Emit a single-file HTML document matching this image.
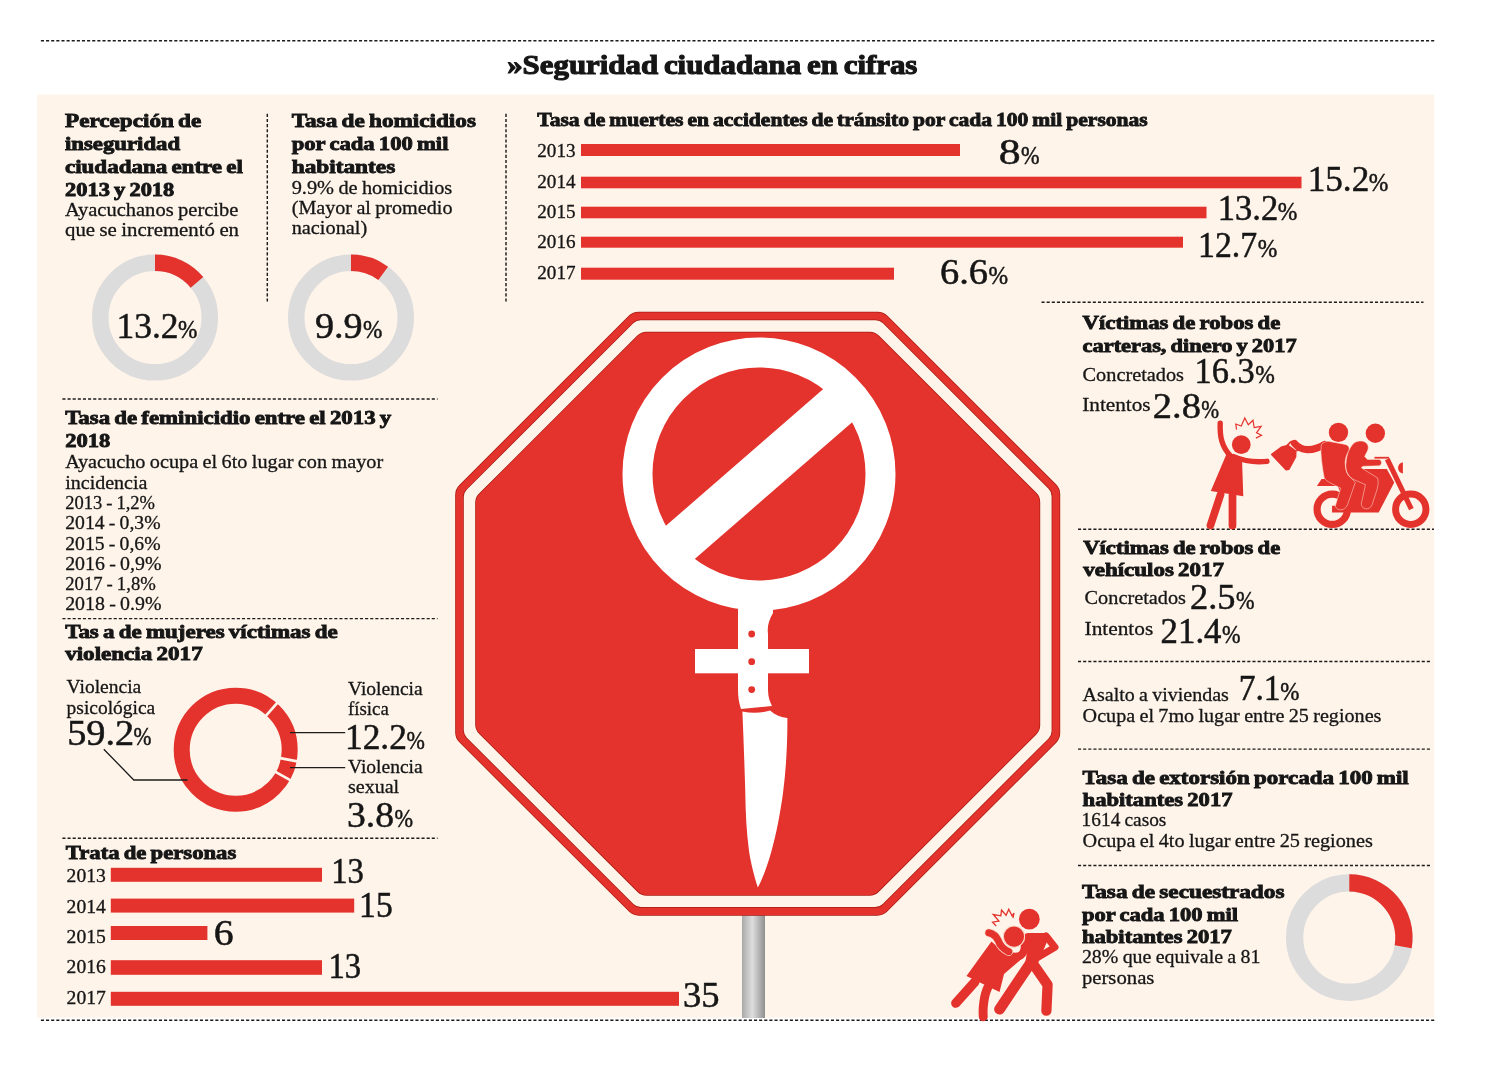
<!DOCTYPE html>
<html lang="es">
<head>
<meta charset="utf-8">
<title>Seguridad ciudadana en cifras</title>
<style>
html,body{margin:0;padding:0;background:#fff;}
body{width:1500px;height:1067px;overflow:hidden;}
svg{display:block;}
text{font-family:"Liberation Serif",serif;fill:#161616;}
text.h{font-weight:bold;stroke:#161616;stroke-width:1.1px;}
text.b{font-weight:bold;stroke:#161616;stroke-width:0.85px;}
text.r{font-weight:normal;stroke:#161616;stroke-width:0.3px;}
text.n{font-weight:normal;stroke:#161616;stroke-width:0.5px;}
</style>
</head>
<body>
<svg width="1500" height="1067" viewBox="0 0 1500 1067">
<defs><linearGradient id="pole" x1="0" x2="1" y1="0" y2="0"><stop offset="0" stop-color="#a9a9a9"/><stop offset="0.45" stop-color="#dedede"/><stop offset="1" stop-color="#8f8f8f"/></linearGradient><style>.dot{stroke:#1c1c1c;stroke-width:1.45;stroke-dasharray:3.1 2.03;fill:none}</style></defs>
<rect x="0" y="0" width="1500" height="1067" fill="#fff"/>
<rect x="37.2" y="94.6" width="1396.9" height="923" fill="#fef4ea"/>
<line class="dot" x1="40.9" y1="40.7" x2="1435.0" y2="40.7"/>
<line class="dot" x1="40.9" y1="1020.3" x2="1435.0" y2="1020.3"/>
<line class="dot" x1="267.3" y1="113.8" x2="267.3" y2="302.0"/>
<line class="dot" x1="506.0" y1="113.8" x2="506.0" y2="302.0"/>
<line class="dot" x1="62.4" y1="399.0" x2="437.6" y2="399.0"/>
<line class="dot" x1="62.4" y1="618.6" x2="437.6" y2="618.6"/>
<line class="dot" x1="62.4" y1="838.3" x2="437.6" y2="838.3"/>
<line class="dot" x1="1041.5" y1="302.3" x2="1423.5" y2="302.3"/>
<line class="dot" x1="1078.0" y1="529.2" x2="1434.0" y2="529.2"/>
<line class="dot" x1="1078.0" y1="661.4" x2="1430.0" y2="661.4"/>
<line class="dot" x1="1078.0" y1="749.1" x2="1430.0" y2="749.1"/>
<line class="dot" x1="1078.0" y1="865.5" x2="1430.0" y2="865.5"/>
<rect x="581" y="144.0" width="379.0" height="12.0" fill="#e4322c"/>
<rect x="581" y="176.7" width="720.5" height="11.6" fill="#e4322c"/>
<rect x="581" y="206.7" width="625.5" height="11.6" fill="#e4322c"/>
<rect x="581" y="236.7" width="602.0" height="11.0" fill="#e4322c"/>
<rect x="581" y="267.7" width="313.0" height="12.0" fill="#e4322c"/>
<rect x="110.8" y="867.8" width="211.2" height="14.0" fill="#e4322c"/>
<rect x="110.8" y="898.6" width="243.4" height="14.0" fill="#e4322c"/>
<rect x="110.8" y="926.0" width="96.6" height="14.0" fill="#e4322c"/>
<rect x="110.8" y="960.2" width="211.2" height="14.6" fill="#e4322c"/>
<rect x="110.8" y="991.8" width="568.2" height="14.0" fill="#e4322c"/>
<circle cx="155.00" cy="317.60" r="54.75" fill="none" stroke="#dcdcdc" stroke-width="16.50"/>
<path fill="#e4322c" d="M155.00,254.60 A63.00,63.00 0 0 1 203.26,277.10 L190.62,287.71 A46.50,46.50 0 0 0 155.00,271.10 Z"/>
<circle cx="351.00" cy="317.60" r="54.75" fill="none" stroke="#dcdcdc" stroke-width="16.50"/>
<path fill="#e4322c" d="M351.00,254.60 A63.00,63.00 0 0 1 388.03,266.63 L378.33,279.98 A46.50,46.50 0 0 0 351.00,271.10 Z"/>
<circle cx="1349.30" cy="937.60" r="54.65" fill="none" stroke="#dcdcdc" stroke-width="17.30"/>
<path fill="#e4322c" d="M1349.30,874.30 A63.30,63.30 0 0 1 1411.71,948.16 L1394.66,945.27 A46.00,46.00 0 0 0 1349.30,891.60 Z"/>
<circle cx="235.70" cy="749.70" r="54.00" fill="none" stroke="#e4322c" stroke-width="16.00"/>
<line x1="264.91" y1="716.80" x2="278.19" y2="701.84" stroke="#fef4ea" stroke-width="2.7"/>
<line x1="278.92" y1="757.94" x2="298.57" y2="761.69" stroke="#fef4ea" stroke-width="2.7"/>
<line x1="274.11" y1="771.17" x2="291.57" y2="780.92" stroke="#fef4ea" stroke-width="2.7"/>
<polyline points="103.8,749.2 133.8,780 187.6,780" fill="none" stroke="#1c1c1c" stroke-width="1.3"/>
<line x1="290" y1="732.6" x2="345.2" y2="732.6" stroke="#1c1c1c" stroke-width="1.3"/>
<line x1="290" y1="767.6" x2="345.2" y2="767.6" stroke="#1c1c1c" stroke-width="1.3"/>
<rect x="742" y="908" width="23" height="110" fill="url(#pole)"/>
<path d="M638.59,325.70 L877.61,325.70 L1046.20,494.10 L1046.20,733.10 L877.41,901.70 L638.79,901.70 L469.20,732.39 L469.20,494.90 Z" fill="#a81a10" stroke="#a81a10" stroke-width="28.00" stroke-linejoin="round"/>
<path d="M638.68,325.90 L877.52,325.90 L1046.00,494.19 L1046.00,733.01 L877.32,901.50 L638.87,901.50 L469.40,732.31 L469.40,494.99 Z" fill="#e4322c" stroke="#e4322c" stroke-width="27.00" stroke-linejoin="round"/>
<path d="M640.62,330.60 L875.58,330.60 L1041.30,496.13 L1041.30,731.07 L875.38,896.80 L640.82,896.80 L474.10,730.36 L474.10,496.93 Z" fill="#a81a10" stroke="#a81a10" stroke-width="22.00" stroke-linejoin="round"/>
<path d="M640.71,330.80 L875.49,330.80 L1041.10,496.22 L1041.10,730.98 L875.29,896.60 L640.90,896.60 L474.30,730.28 L474.30,497.02 Z" fill="#fef4ea" stroke="#fef4ea" stroke-width="21.00" stroke-linejoin="round"/>
<path d="M646.46,344.70 L869.74,344.70 L1027.20,501.98 L1027.20,725.22 L869.54,882.70 L646.65,882.70 L488.20,724.51 L488.20,502.78 Z" fill="#a81a10" stroke="#a81a10" stroke-width="26.00" stroke-linejoin="round"/>
<path d="M646.54,344.90 L869.66,344.90 L1027.00,502.06 L1027.00,725.14 L869.46,882.50 L646.74,882.50 L488.40,724.43 L488.40,502.86 Z" fill="#e4322c" stroke="#e4322c" stroke-width="25.00" stroke-linejoin="round"/>
<circle cx="759" cy="474" r="121.5" fill="none" stroke="#fff" stroke-width="30"/>
<g transform="rotate(-41 759 474)"><rect x="644" y="452" width="230" height="44" fill="#fff"/></g>
<rect x="695" y="649" width="114" height="24.3" fill="#fff"/>
<path fill="#fff" d="M738,600 L773,600 L773,613 C769,620 767,626 768,634 L768,690 C768,697 770,702 772,706 L741,709 C739,703 738,697 738,690 Z"/>
<circle cx="751.7" cy="634" r="3.4" fill="#e4322c"/>
<circle cx="751.7" cy="661.7" r="3.4" fill="#e4322c"/>
<circle cx="751.7" cy="689.6" r="3.4" fill="#e4322c"/>
<path fill="#fff" d="M742.4,711.5 C752,713.5 762,713 770,710.5 C775,715 781,717.5 787.4,718 C787.5,745 786,770 783,793 C780,815 776,835 771.5,851 C767,867 762,880 757.8,887.6 C753,872 750.5,861 749,851 C746.5,832 745.5,812 745.3,793 C744.5,765 743.5,738 742.4,711.5 Z"/>
<g transform="translate(1195 410) scale(0.117151)" fill="#e4322c" stroke="none">
<circle cx="395" cy="295" r="80"/>
<path d="M215,112 C211,225 226,312 306,396" fill="none" stroke="#e4322c" stroke-width="46" stroke-linecap="round"/>
<path d="M330,398 C420,437 530,447 614,438" fill="none" stroke="#e4322c" stroke-width="46" stroke-linecap="round"/>
<path d="M268,378 L352,400 L402,442 L412,737 L135,692 L250,420 Z"/>
<path d="M218,722 L132,985" fill="none" stroke="#e4322c" stroke-width="66" stroke-linecap="round"/>
<path d="M320,730 L320,985" fill="none" stroke="#e4322c" stroke-width="66" stroke-linecap="round"/>
<polyline points="355,167 348,120 395,136 425,68 455,126 495,88 505,150 565,140 525,195 568,215 520,240" fill="none" stroke="#e4322c" stroke-width="10" stroke-linejoin="miter"/>
<path d="M655,380 L742,316 L795,304 L860,352 L858,400 L800,506 L778,510 Z" stroke="#e4322c" stroke-width="14" stroke-linejoin="round"/>
<path d="M778,312 L815,274 C830,262 850,268 858,286 L874,352" fill="none" stroke="#e4322c" stroke-width="15" stroke-linejoin="round"/>
<path d="M850,286 C905,350 1000,358 1105,296" fill="none" stroke="#e4322c" stroke-width="62" stroke-linecap="round"/>
</g>
<g transform="translate(1300 415) scale(0.112448)" fill="#e4322c" stroke="none">
<circle cx="287" cy="838" r="135" fill="none" stroke="#e4322c" stroke-width="64"/>
<circle cx="985" cy="838" r="135" fill="none" stroke="#e4322c" stroke-width="62"/>
<path d="M285,808 L285,866 L700,866 L838,600 L772,480 L545,480 L440,572 L192,570 L150,632 L335,632 L365,705 L335,808 Z"/>
<path d="M776,392 L990,836" fill="none" stroke="#e4322c" stroke-width="46"/>
<path d="M662,380 L792,380" fill="none" stroke="#e4322c" stroke-width="16"/>
<path d="M915,420 L915,520 C858,514 858,426 915,420 Z"/>
<circle cx="342" cy="155" r="86"/>
<path d="M190,262 C215,238 240,232 262,235 L402,262 C432,270 446,292 432,322 C402,372 392,422 412,500 C422,540 470,570 492,600 L422,800 C402,852 328,860 314,810 L362,650 C300,620 232,590 216,560 C200,480 190,400 186,330 Z" stroke="#fbd9c8" stroke-width="5" stroke-linejoin="round"/>
<circle cx="670" cy="162" r="86"/>
<path d="M540,232 C582,232 612,260 606,300 C600,330 580,350 575,370 L600,395 L700,395 C732,395 732,452 700,452 L560,456 L545,470 L690,560 C702,600 692,640 680,680 L640,800 C620,852 545,842 545,790 L582,620 L470,570 C420,540 400,480 410,420 C415,350 440,290 480,250 C500,236 520,232 540,232 Z" stroke="#fbd9c8" stroke-width="5" stroke-linejoin="round"/>
</g>
<g transform="translate(930 890) scale(0.13123)" fill="#e4322c" stroke="none">
<circle cx="757" cy="222" r="79"/>
<path d="M712,360 C715,340 730,328 750,328 L880,328 L905,362 L856,480 L815,575 L722,575 L740,470 Z"/>
<path d="M884,350 L952,436 L820,514" fill="none" stroke="#e4322c" stroke-width="54" stroke-linecap="round" stroke-linejoin="round"/>
<path d="M764,560 L530,908" fill="none" stroke="#e4322c" stroke-width="82" stroke-linecap="round"/>
<path d="M792,572 L896,722 L887,920" fill="none" stroke="#e4322c" stroke-width="78" stroke-linecap="round" stroke-linejoin="round"/>
<path d="M722,420 C722,500 680,522 600,500" fill="none" stroke="#e4322c" stroke-width="60" stroke-linecap="round"/>
<path d="M468,392 L560,470 L640,500 L702,522 L564,640 L530,778 L278,655 Z"/>
<path d="M448,326 C475,332 505,352 520,385 C532,422 562,452 600,470" fill="none" stroke="#fbd9c8" stroke-width="66" stroke-linecap="round"/>
<path d="M448,326 C475,332 505,352 520,385 C532,422 562,452 600,470" fill="none" stroke="#e4322c" stroke-width="54" stroke-linecap="round"/>
<circle cx="640" cy="355" r="81" stroke="#fbd9c8" stroke-width="8"/>
<path d="M342,700 L197,862" fill="none" stroke="#e4322c" stroke-width="72" stroke-linecap="round"/>
<path d="M442,740 C412,800 400,900 406,966" fill="none" stroke="#e4322c" stroke-width="68" stroke-linecap="round"/>
<polyline points="505,275 477,245 525,237 482,187 540,197 545,152 580,192 600,147 625,197 640,177 632,215" fill="none" stroke="#e4322c" stroke-width="10"/>
</g>
<g id="labels">
<text class="h" x="507.18" y="73.70" font-size="27.5" word-spacing="-1.65" textLength="410.19" lengthAdjust="spacingAndGlyphs">»Seguridad ciudadana en cifras</text>
<text class="b" x="65.00" y="127.30" font-size="18.5" word-spacing="-1.20" textLength="136.26" lengthAdjust="spacingAndGlyphs">Percepción de</text>
<text class="b" x="65.00" y="150.00" font-size="18.5" textLength="115.12" lengthAdjust="spacingAndGlyphs">inseguridad</text>
<text class="b" x="65.00" y="173.30" font-size="18.5" word-spacing="-1.20" textLength="177.87" lengthAdjust="spacingAndGlyphs">ciudadana entre el</text>
<text class="b" x="65.00" y="196.00" font-size="18.5" word-spacing="-1.20" textLength="109.30" lengthAdjust="spacingAndGlyphs">2013 y 2018</text>
<text class="b" x="291.70" y="127.30" font-size="18.5" word-spacing="-1.20" textLength="184.25" lengthAdjust="spacingAndGlyphs">Tasa de homicidios</text>
<text class="b" x="291.70" y="150.00" font-size="18.5" word-spacing="-1.20" textLength="156.77" lengthAdjust="spacingAndGlyphs">por cada 100 mil</text>
<text class="b" x="291.70" y="173.30" font-size="18.5" textLength="103.55" lengthAdjust="spacingAndGlyphs">habitantes</text>
<text class="b" x="537.30" y="126.30" font-size="18.5" word-spacing="-1.20" textLength="610.43" lengthAdjust="spacingAndGlyphs">Tasa de muertes en accidentes de tránsito por cada 100 mil personas</text>
<text class="b" x="1082.60" y="329.20" font-size="18.5" word-spacing="-1.20" textLength="197.66" lengthAdjust="spacingAndGlyphs">Víctimas de robos de</text>
<text class="b" x="1082.60" y="351.60" font-size="18.5" word-spacing="-1.20" textLength="214.00" lengthAdjust="spacingAndGlyphs">carteras, dinero y 2017</text>
<text class="b" x="1083.20" y="554.20" font-size="18.5" word-spacing="-1.20" textLength="197.06" lengthAdjust="spacingAndGlyphs">Víctimas de robos de</text>
<text class="b" x="1083.20" y="576.00" font-size="18.5" word-spacing="-1.20" textLength="140.91" lengthAdjust="spacingAndGlyphs">vehículos 2017</text>
<text class="b" x="1082.60" y="783.90" font-size="18.5" word-spacing="-1.20" textLength="326.17" lengthAdjust="spacingAndGlyphs">Tasa de extorsión porcada 100 mil</text>
<text class="b" x="1082.60" y="805.70" font-size="18.5" word-spacing="-1.20" textLength="149.91" lengthAdjust="spacingAndGlyphs">habitantes 2017</text>
<text class="b" x="1081.90" y="897.50" font-size="18.5" word-spacing="-1.20" textLength="202.55" lengthAdjust="spacingAndGlyphs">Tasa de secuestrados</text>
<text class="b" x="1081.90" y="920.60" font-size="18.5" word-spacing="-1.20" textLength="156.07" lengthAdjust="spacingAndGlyphs">por cada 100 mil</text>
<text class="b" x="1081.90" y="942.60" font-size="18.5" word-spacing="-1.20" textLength="150.01" lengthAdjust="spacingAndGlyphs">habitantes 2017</text>
<text class="b" x="65.20" y="424.20" font-size="18.5" word-spacing="-1.20" textLength="326.07" lengthAdjust="spacingAndGlyphs">Tasa de feminicidio entre el 2013 y</text>
<text class="b" x="65.20" y="446.80" font-size="18.5" textLength="45.10" lengthAdjust="spacingAndGlyphs">2018</text>
<text class="b" x="65.20" y="638.00" font-size="18.5" word-spacing="-1.20" textLength="272.46" lengthAdjust="spacingAndGlyphs">Tas a de mujeres víctimas de</text>
<text class="b" x="65.20" y="660.40" font-size="18.5" word-spacing="-1.20" textLength="137.51" lengthAdjust="spacingAndGlyphs">violencia 2017</text>
<text class="b" x="65.80" y="859.40" font-size="18.5" word-spacing="-1.20" textLength="170.44" lengthAdjust="spacingAndGlyphs">Trata de personas</text>
<text class="r" x="65.00" y="216.00" font-size="19.5" word-spacing="-0.68" textLength="173.39" lengthAdjust="spacingAndGlyphs">Ayacuchanos percibe</text>
<text class="r" x="65.00" y="236.30" font-size="19.5" word-spacing="-0.68" textLength="174.03" lengthAdjust="spacingAndGlyphs">que se incrementó en</text>
<text class="r" x="291.70" y="194.30" font-size="19.5" word-spacing="-0.68" textLength="160.61" lengthAdjust="spacingAndGlyphs">9.9% de homicidios</text>
<text class="r" x="291.70" y="214.30" font-size="19.5" word-spacing="-0.68" textLength="160.77" lengthAdjust="spacingAndGlyphs">(Mayor al promedio</text>
<text class="r" x="291.70" y="234.30" font-size="19.5" textLength="75.51" lengthAdjust="spacingAndGlyphs">nacional)</text>
<text class="r" x="537.30" y="156.90" font-size="18" textLength="38.20" lengthAdjust="spacingAndGlyphs">2013</text>
<text class="r" x="537.30" y="187.80" font-size="18" textLength="38.20" lengthAdjust="spacingAndGlyphs">2014</text>
<text class="r" x="537.30" y="217.60" font-size="18" textLength="38.20" lengthAdjust="spacingAndGlyphs">2015</text>
<text class="r" x="537.30" y="247.60" font-size="18" textLength="38.20" lengthAdjust="spacingAndGlyphs">2016</text>
<text class="r" x="537.30" y="279.30" font-size="18" textLength="38.20" lengthAdjust="spacingAndGlyphs">2017</text>
<text class="r" x="1082.60" y="381.00" font-size="19.5" textLength="101.41" lengthAdjust="spacingAndGlyphs">Concretados</text>
<text class="r" x="1082.20" y="411.20" font-size="19.5" textLength="68.44" lengthAdjust="spacingAndGlyphs">Intentos</text>
<text class="r" x="1084.60" y="604.00" font-size="19.5" textLength="101.41" lengthAdjust="spacingAndGlyphs">Concretados</text>
<text class="r" x="1084.60" y="635.40" font-size="19.5" textLength="68.64" lengthAdjust="spacingAndGlyphs">Intentos</text>
<text class="r" x="1082.60" y="701.40" font-size="19.5" word-spacing="-0.68" textLength="146.20" lengthAdjust="spacingAndGlyphs">Asalto a viviendas</text>
<text class="r" x="1082.60" y="722.20" font-size="19.5" word-spacing="-0.68" textLength="298.81" lengthAdjust="spacingAndGlyphs">Ocupa el 7mo lugar entre 25 regiones</text>
<text class="r" x="1081.61" y="826.20" font-size="19.5" word-spacing="-0.68" textLength="84.78" lengthAdjust="spacingAndGlyphs">1614 casos</text>
<text class="r" x="1082.60" y="847.00" font-size="19.5" word-spacing="-0.68" textLength="290.21" lengthAdjust="spacingAndGlyphs">Ocupa el 4to lugar entre 25 regiones</text>
<text class="r" x="1081.90" y="963.30" font-size="19.5" word-spacing="-0.68" textLength="178.47" lengthAdjust="spacingAndGlyphs">28% que equivale a 81</text>
<text class="r" x="1081.90" y="983.60" font-size="19.5" textLength="72.53" lengthAdjust="spacingAndGlyphs">personas</text>
<text class="r" x="65.20" y="467.80" font-size="19.5" word-spacing="-0.68" textLength="318.07" lengthAdjust="spacingAndGlyphs">Ayacucho ocupa el 6to lugar con mayor</text>
<text class="r" x="65.20" y="488.70" font-size="19.5" textLength="82.25" lengthAdjust="spacingAndGlyphs">incidencia</text>
<text class="r" x="65.20" y="509.00" font-size="19.5" word-spacing="-0.68" textLength="89.83" lengthAdjust="spacingAndGlyphs">2013 - 1,2%</text>
<text class="r" x="65.20" y="529.30" font-size="19.5" word-spacing="-0.68" textLength="95.45" lengthAdjust="spacingAndGlyphs">2014 - 0,3%</text>
<text class="r" x="65.20" y="549.70" font-size="19.5" word-spacing="-0.68" textLength="95.45" lengthAdjust="spacingAndGlyphs">2015 - 0,6%</text>
<text class="r" x="65.20" y="569.90" font-size="19.5" word-spacing="-0.68" textLength="96.25" lengthAdjust="spacingAndGlyphs">2016 - 0,9%</text>
<text class="r" x="65.20" y="590.30" font-size="19.5" word-spacing="-0.68" textLength="90.63" lengthAdjust="spacingAndGlyphs">2017 - 1,8%</text>
<text class="r" x="65.20" y="610.40" font-size="19.5" word-spacing="-0.68" textLength="96.25" lengthAdjust="spacingAndGlyphs">2018 - 0.9%</text>
<text class="r" x="66.60" y="693.20" font-size="19.5" textLength="74.65" lengthAdjust="spacingAndGlyphs">Violencia</text>
<text class="r" x="66.60" y="713.60" font-size="19.5" textLength="88.66" lengthAdjust="spacingAndGlyphs">psicológica</text>
<text class="r" x="348.00" y="694.80" font-size="19.5" textLength="74.65" lengthAdjust="spacingAndGlyphs">Violencia</text>
<text class="r" x="348.00" y="715.00" font-size="19.5" textLength="40.87" lengthAdjust="spacingAndGlyphs">física</text>
<text class="r" x="348.00" y="773.20" font-size="19.5" textLength="74.65" lengthAdjust="spacingAndGlyphs">Violencia</text>
<text class="r" x="348.00" y="793.40" font-size="19.5" textLength="51.20" lengthAdjust="spacingAndGlyphs">sexual</text>
<text class="r" x="66.60" y="881.80" font-size="18" textLength="39.20" lengthAdjust="spacingAndGlyphs">2013</text>
<text class="r" x="66.60" y="912.60" font-size="18" textLength="39.20" lengthAdjust="spacingAndGlyphs">2014</text>
<text class="r" x="66.60" y="942.80" font-size="18" textLength="39.20" lengthAdjust="spacingAndGlyphs">2015</text>
<text class="r" x="66.60" y="973.40" font-size="18" textLength="39.20" lengthAdjust="spacingAndGlyphs">2016</text>
<text class="r" x="66.60" y="1004.20" font-size="18" textLength="39.20" lengthAdjust="spacingAndGlyphs">2017</text>
<text class="n" x="116.46" y="338.30" font-size="35" textLength="62.06" lengthAdjust="spacingAndGlyphs">13.2</text>
<text class="n" x="178.00" y="338.30" font-size="26" textLength="19.39" lengthAdjust="spacingAndGlyphs">%</text>
<text class="n" x="314.91" y="338.30" font-size="35" textLength="47.63" lengthAdjust="spacingAndGlyphs">9.9</text>
<text class="n" x="363.00" y="338.30" font-size="26" textLength="19.39" lengthAdjust="spacingAndGlyphs">%</text>
<text class="n" x="998.75" y="164.00" font-size="35" textLength="21.88" lengthAdjust="spacingAndGlyphs">8</text>
<text class="n" x="1021.00" y="164.00" font-size="26" textLength="18.56" lengthAdjust="spacingAndGlyphs">%</text>
<text class="n" x="1307.69" y="190.70" font-size="35" textLength="61.52" lengthAdjust="spacingAndGlyphs">15.2</text>
<text class="n" x="1368.70" y="190.70" font-size="26" textLength="19.60" lengthAdjust="spacingAndGlyphs">%</text>
<text class="n" x="1217.74" y="220.00" font-size="35" textLength="60.44" lengthAdjust="spacingAndGlyphs">13.2</text>
<text class="n" x="1277.70" y="220.00" font-size="26" textLength="19.60" lengthAdjust="spacingAndGlyphs">%</text>
<text class="n" x="1198.11" y="256.70" font-size="35" textLength="59.08" lengthAdjust="spacingAndGlyphs">12.7</text>
<text class="n" x="1257.70" y="256.70" font-size="26" textLength="19.60" lengthAdjust="spacingAndGlyphs">%</text>
<text class="n" x="939.90" y="283.50" font-size="35" textLength="48.15" lengthAdjust="spacingAndGlyphs">6.6</text>
<text class="n" x="988.50" y="283.50" font-size="26" textLength="19.60" lengthAdjust="spacingAndGlyphs">%</text>
<text class="n" x="1194.45" y="383.20" font-size="35" textLength="60.24" lengthAdjust="spacingAndGlyphs">16.3</text>
<text class="n" x="1255.20" y="383.20" font-size="26" textLength="19.60" lengthAdjust="spacingAndGlyphs">%</text>
<text class="n" x="1152.80" y="418.20" font-size="35" textLength="48.05" lengthAdjust="spacingAndGlyphs">2.8</text>
<text class="n" x="1201.30" y="418.20" font-size="26" textLength="17.84" lengthAdjust="spacingAndGlyphs">%</text>
<text class="n" x="1189.96" y="609.00" font-size="35" textLength="45.56" lengthAdjust="spacingAndGlyphs">2.5</text>
<text class="n" x="1236.00" y="609.00" font-size="26" textLength="18.56" lengthAdjust="spacingAndGlyphs">%</text>
<text class="n" x="1160.61" y="642.60" font-size="35" textLength="60.89" lengthAdjust="spacingAndGlyphs">21.4</text>
<text class="n" x="1222.00" y="642.60" font-size="26" textLength="18.56" lengthAdjust="spacingAndGlyphs">%</text>
<text class="n" x="1238.68" y="700.20" font-size="35" textLength="41.96" lengthAdjust="spacingAndGlyphs">7.1</text>
<text class="n" x="1280.20" y="700.20" font-size="26" textLength="19.18" lengthAdjust="spacingAndGlyphs">%</text>
<text class="n" x="67.21" y="745.20" font-size="35" textLength="67.03" lengthAdjust="spacingAndGlyphs">59.2</text>
<text class="n" x="133.60" y="745.20" font-size="26" textLength="17.95" lengthAdjust="spacingAndGlyphs">%</text>
<text class="n" x="344.97" y="748.60" font-size="35" textLength="61.95" lengthAdjust="spacingAndGlyphs">12.2</text>
<text class="n" x="406.40" y="748.60" font-size="26" textLength="18.36" lengthAdjust="spacingAndGlyphs">%</text>
<text class="n" x="346.93" y="827.00" font-size="35" textLength="47.01" lengthAdjust="spacingAndGlyphs">3.8</text>
<text class="n" x="394.40" y="827.00" font-size="26" textLength="18.56" lengthAdjust="spacingAndGlyphs">%</text>
<text class="n" x="331.20" y="883.20" font-size="35" textLength="32.67" lengthAdjust="spacingAndGlyphs">13</text>
<text class="n" x="359.12" y="916.80" font-size="35" textLength="33.56" lengthAdjust="spacingAndGlyphs">15</text>
<text class="n" x="213.86" y="945.40" font-size="35" textLength="19.91" lengthAdjust="spacingAndGlyphs">6</text>
<text class="n" x="328.40" y="978.40" font-size="35" textLength="32.67" lengthAdjust="spacingAndGlyphs">13</text>
<text class="n" x="682.96" y="1006.50" font-size="35" textLength="36.57" lengthAdjust="spacingAndGlyphs">35</text>
</g>
</svg>
</body>
</html>
